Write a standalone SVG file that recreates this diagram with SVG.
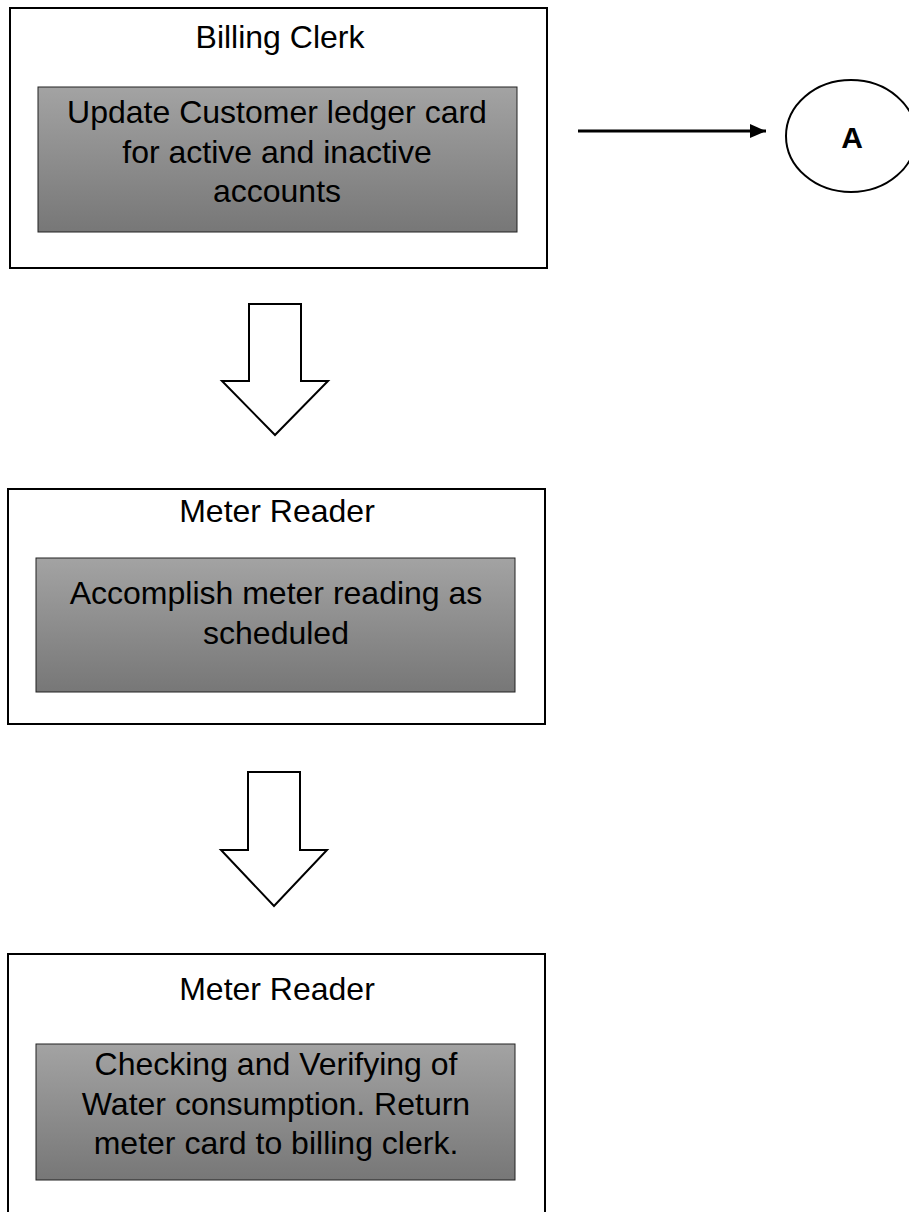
<svg xmlns="http://www.w3.org/2000/svg" width="909" height="1212" viewBox="0 0 909 1212">
<defs>
<linearGradient id="g" x1="0" y1="0" x2="0" y2="1">
<stop offset="0" stop-color="#a3a3a3"/>
<stop offset="1" stop-color="#777777"/>
</linearGradient>
<marker id="ah" markerWidth="16" markerHeight="14" refX="16" refY="7" orient="auto" markerUnits="userSpaceOnUse">
<path d="M0,0 L16,7 L0,14 Z" fill="#000"/>
</marker>
</defs>
<style>
.outer{fill:#fff;stroke:#000;stroke-width:2}
.inner{fill:url(#g);stroke:#222;stroke-width:1}
.t{font-family:"Liberation Sans",Arial,sans-serif;font-size:32px;fill:#000;text-anchor:middle}
.blk{fill:#fff;stroke:#000;stroke-width:2}
</style>
<rect width="909" height="1212" fill="#fff"/>
<g id="node-billing-clerk">
<rect class="outer" x="10" y="8" width="537" height="260"/>
<text class="t" x="280" y="48">Billing Clerk</text>
<rect class="inner" x="38" y="87" width="479" height="145"/>
<text class="t" x="277" y="123">Update Customer ledger card</text>
<text class="t" x="277" y="163">for active and inactive</text>
<text class="t" x="277" y="202">accounts</text>
</g>
<g id="node-A">
<ellipse cx="851" cy="136" rx="65" ry="56" fill="#fff" stroke="#000" stroke-width="2"/>
<text x="852" y="148" font-family="Liberation Sans,Arial,sans-serif" font-size="30" font-weight="bold" text-anchor="middle">A</text>
</g>
<g id="node-meter-reader-1">
<rect class="outer" x="8" y="489" width="537" height="235"/>
<text class="t" x="277" y="522">Meter Reader</text>
<rect class="inner" x="36" y="558" width="479" height="134"/>
<text class="t" x="276" y="604">Accomplish meter reading as</text>
<text class="t" x="276" y="644">scheduled</text>
</g>
<g id="node-meter-reader-2">
<path class="outer" d="M8,1214 V954 H545 V1214"/>
<text class="t" x="277" y="1000">Meter Reader</text>
<rect class="inner" x="36" y="1044" width="479" height="136"/>
<text class="t" x="276" y="1075">Checking and Verifying of</text>
<text class="t" x="276" y="1115">Water consumption. Return</text>
<text class="t" x="276" y="1154">meter card to billing clerk.</text>
</g>
<g id="connectors">
<line x1="578" y1="131" x2="766" y2="131" stroke="#000" stroke-width="3" marker-end="url(#ah)"/>
<polygon class="blk" points="249,304 301,304 301,381 328,381 275,435 222,381 249,381"/>
<polygon class="blk" points="248,772 300,772 300,850 327,850 274,906 221,850 248,850"/>
</g>
</svg>
